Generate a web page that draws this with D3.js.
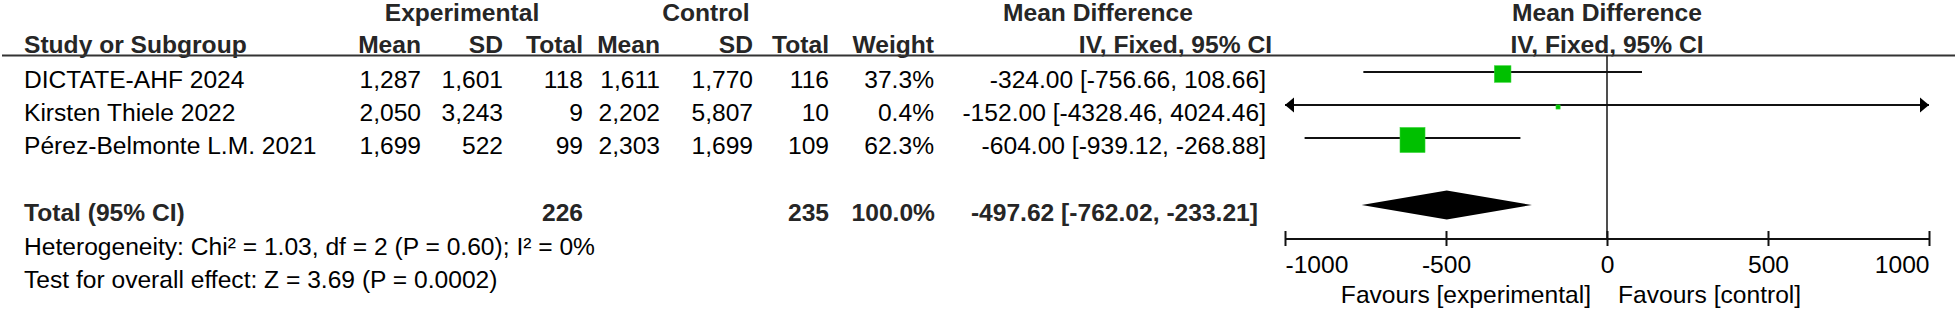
<!DOCTYPE html>
<html>
<meta charset="utf-8">
<style>
  body { margin: 0; background: #fff; }
  svg text { font-family: "Liberation Sans", Arial, sans-serif; font-size: 24.6px; fill: #000; }
  svg text.b { font-weight: bold; fill: #262626; }
</style>
<script src="https://d3js.org/d3.v7.min.js"></script>
<body>
<script>
var W = 1955, H = 311;

// data
var studies   = ["DICTATE-AHF 2024", "Kirsten Thiele 2022", "Pérez-Belmonte L.M. 2021"];
var expMean   = [1287, 2050, 1699];
var expSD     = [1601, 3243, 522];
var expN      = [118, 9, 99];
var ctrlMean  = [1611, 2202, 2303];
var ctrlSD    = [1770, 5807, 1699];
var ctrlN     = [116, 10, 109];
var weights   = [37.3, 0.4, 62.3];
var md        = [-324.00, -152.00, -604.00];
var ciLow     = [-756.66, -4328.46, -939.12];
var ciHigh    = [108.66, 4024.46, -268.88];
var totalExpN = 226, totalCtrlN = 235, totalWeight = 100.0;
var totalMD   = -497.62, totalLow = -762.02, totalHigh = -233.21;
var axisTicks = [-1000, -500, 0, 500, 1000];
var hetText   = "Heterogeneity: Chi\u00b2 = 1.03, df = 2 (P = 0.60); I\u00b2 = 0%";
var testText  = "Test for overall effect: Z = 3.69 (P = 0.0002)";

var svg = d3.select("body").append("svg")
  .attr("width", W).attr("height", H);

var x = d3.scaleLinear().domain([-1000, 1000]).range([1285, 1929]);
var size = d3.scaleLinear().domain([0, 62.3]).range([4, 25]);
var rowY = function(i) { return 72 + i * 33; };

// d3.format uses a unicode minus, RevMan uses a plain hyphen
function hy(f) { return function(v) { return f(v).replace(/\u2212/g, "-"); }; }
var thousands = d3.format(",");
var f2 = hy(d3.format(".2f"));
var pct = d3.format(".1f");
function ci(m, l, h) { return f2(m) + " [" + f2(l) + ", " + f2(h) + "]"; }

// column right edges
var col = { study: 24, eMean: 421, eSD: 503, eN: 583, cMean: 660, cSD: 753, cN: 829, w: 934, ci: 1266 };

function txt(xp, yp, s, anchor, bold) {
  svg.append("text").attr("x", xp).attr("y", yp)
    .attr("text-anchor", anchor || "end")
    .attr("class", bold ? "b" : null)
    .text(s);
}

// headers
txt(462, 21, "Experimental", "middle", true);
txt(706, 21, "Control", "middle", true);
txt(1098, 21, "Mean Difference", "middle", true);
txt(x(0), 21, "Mean Difference", "middle", true);

txt(col.study, 53, "Study or Subgroup", "start", true);
txt(col.eMean, 53, "Mean", "end", true);
txt(col.eSD, 53, "SD", "end", true);
txt(col.eN, 53, "Total", "end", true);
txt(col.cMean, 53, "Mean", "end", true);
txt(col.cSD, 53, "SD", "end", true);
txt(col.cN, 53, "Total", "end", true);
txt(col.w, 53, "Weight", "end", true);
txt(1272, 53, "IV, Fixed, 95% CI", "end", true);
txt(x(0), 53, "IV, Fixed, 95% CI", "middle", true);

svg.append("line").attr("x1", 2).attr("x2", W).attr("y1", 55.5).attr("y2", 55.5)
  .attr("stroke", "#333").attr("stroke-width", 2);

// zero line
svg.append("line").attr("x1", x(0)).attr("x2", x(0)).attr("y1", 55).attr("y2", 239)
  .attr("stroke", "#222").attr("stroke-width", 1.6);

// study rows
studies.forEach(function(s, i) {
  var ty = rowY(i) + 16;
  txt(col.study, ty, s, "start");
  txt(col.eMean, ty, thousands(expMean[i]));
  txt(col.eSD, ty, thousands(expSD[i]));
  txt(col.eN, ty, expN[i]);
  txt(col.cMean, ty, thousands(ctrlMean[i]));
  txt(col.cSD, ty, thousands(ctrlSD[i]));
  txt(col.cN, ty, ctrlN[i]);
  txt(col.w, ty, pct(weights[i]) + "%");
  txt(col.ci, ty, ci(md[i], ciLow[i], ciHigh[i]));
});

var dom = x.domain();
var g = svg.append("g");
studies.forEach(function(s, i) {
  var y = rowY(i);
  var lo = Math.max(ciLow[i], dom[0]), hi = Math.min(ciHigh[i], dom[1]);
  g.append("line").attr("x1", x(lo)).attr("x2", x(hi)).attr("y1", y).attr("y2", y)
    .attr("stroke", "#111").attr("stroke-width", 2);
  if (ciLow[i] < dom[0]) {
    g.append("path").attr("d", "M" + x(dom[0]) + "," + y + "l9,-7.5v15z").attr("fill", "#000");
  }
  if (ciHigh[i] > dom[1]) {
    g.append("path").attr("d", "M" + x(dom[1]) + "," + y + "l-9,-7.5v15z").attr("fill", "#000");
  }
  var sz = size(weights[i]);
  g.append("rect").attr("x", x(md[i]) - sz / 2).attr("y", y + 2 - sz / 2)
    .attr("width", sz).attr("height", sz)
    .attr("fill", "#00c000").attr("stroke", "#33d633").attr("stroke-width", 0.6);
});

// total row
var ty = 221;
txt(col.study, ty, "Total (95% CI)", "start", true);
txt(col.eN, ty, totalExpN, "end", true);
txt(col.cN, ty, totalCtrlN, "end", true);
txt(col.w + 1, ty, pct(totalWeight) + "%", "end", true);
txt(col.ci - 8, ty, ci(totalMD, totalLow, totalHigh), "end", true);

var dy = 205;
svg.append("path")
  .attr("d", "M" + x(totalLow) + "," + dy + "L" + x(totalMD) + "," + (dy - 14.5) +
    "L" + x(totalHigh) + "," + dy + "L" + x(totalMD) + "," + (dy + 14.5) + "Z")
  .attr("fill", "#000");

txt(col.study, 255, hetText, "start");
txt(col.study, 288, testText, "start");

// axis
var axis = svg.append("g").attr("transform", "translate(0,239)")
  .call(d3.axisBottom(x).tickValues(axisTicks).tickSize(7).tickSizeOuter(0)
    .tickFormat(hy(d3.format("d"))));
axis.select(".domain").attr("stroke", "#111").attr("stroke-width", 2)
  .attr("d", "M" + x(dom[0]) + ",0H" + x(dom[1]));
axis.selectAll(".tick line").attr("y1", -8).attr("stroke", "#111").attr("stroke-width", 2);
axis.selectAll(".tick text")
  .attr("y", 34).attr("dy", null)
  .style("font-size", "24.6px").style("font-family", "'Liberation Sans', Arial, sans-serif")
  .attr("fill", "#000")
  .attr("text-anchor", function(d, i) { return i === 0 ? "start" : (i === axisTicks.length - 1 ? "end" : "middle"); });

txt(x(0) - 16, 303, "Favours [experimental]", "end");
txt(x(0) + 11, 303, "Favours [control]", "start");
</script>
</body>
</html>
